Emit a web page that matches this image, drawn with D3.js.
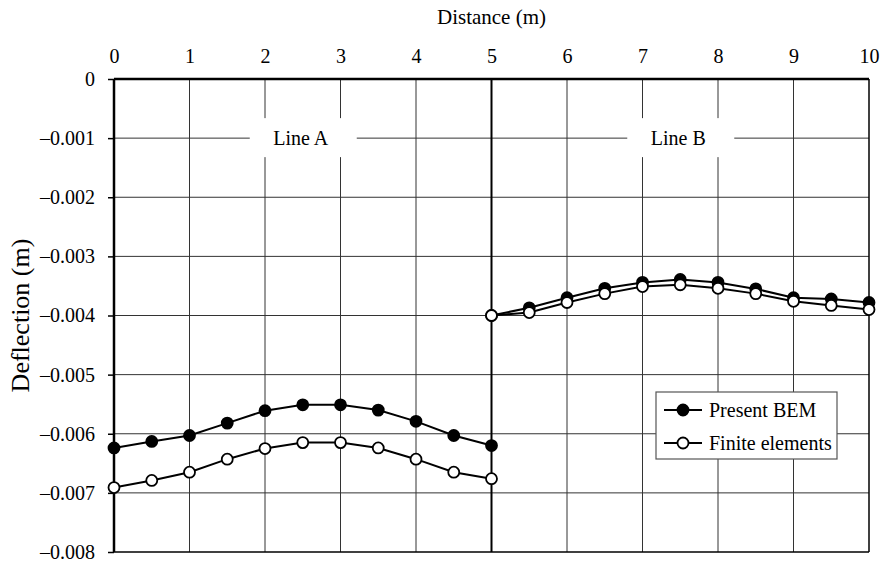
<!DOCTYPE html>
<html>
<head>
<meta charset="utf-8">
<script src="https://cdn.jsdelivr.net/npm/d3@7"></script>
<style>
  body { margin: 0; background: #fff; }
  text { font-family: "Liberation Serif", "Times New Roman", serif; fill: #000; }
</style>
</head>
<body>
<div id="container"></div>
<script>
// Data
var distA = [0, 0.5, 1, 1.5, 2, 2.5, 3, 3.5, 4, 4.5, 5];
var distB = [5, 5.5, 6, 6.5, 7, 7.5, 8, 8.5, 9, 9.5, 10];
var bemA = [-0.00624, -0.00613, -0.00603, -0.00582, -0.00561, -0.00551, -0.00551, -0.00560, -0.00579, -0.00603, -0.00620];
var feA  = [-0.00691, -0.00679, -0.00665, -0.00643, -0.00625, -0.00615, -0.00615, -0.00624, -0.00643, -0.00665, -0.00676];
var bemB = [-0.00400, -0.00387, -0.00370, -0.00354, -0.00344, -0.00339, -0.00344, -0.00355, -0.00370, -0.00372, -0.00378];
var feB  = [-0.00400, -0.00395, -0.00378, -0.00363, -0.00351, -0.00348, -0.00354, -0.00363, -0.00376, -0.00383, -0.00390];
var xTicks = [0, 1, 2, 3, 4, 5, 6, 7, 8, 9, 10];
var yTicks = [0, -0.001, -0.002, -0.003, -0.004, -0.005, -0.006, -0.007, -0.008];
var lineLabels = [{name: "Line A", x: 2.5}, {name: "Line B", x: 7.5}];
var legendNames = ["Present BEM", "Finite elements"];

var w = 883, h = 562;
var pLeft = 114, pRight = 869, pTop = 79, pBottom = 552;

var svg = d3.select("#container").append("svg")
  .attr("width", w)
  .attr("height", h);

var x = d3.scaleLinear().domain([0, 10]).range([pLeft, pRight]);
var y = d3.scaleLinear().domain([-0.008, 0]).range([pBottom, pTop]);

// Grid
svg.append("g").selectAll("line")
  .data(yTicks.slice(1, -1))
  .enter().append("line")
  .attr("x1", pLeft).attr("x2", pRight)
  .attr("y1", function(d) { return y(d); })
  .attr("y2", function(d) { return y(d); })
  .attr("stroke", "#333").attr("stroke-width", 1);

svg.append("g").selectAll("line")
  .data(xTicks.slice(1, -1))
  .enter().append("line")
  .attr("y1", pTop).attr("y2", pBottom)
  .attr("x1", function(d) { return x(d); })
  .attr("x2", function(d) { return x(d); })
  .attr("stroke", function(d) { return d == 5 ? "#000" : "#333"; })
  .attr("stroke-width", function(d) { return d == 5 ? 2 : 1; });

// Line labels with white patch over grid
var lab = svg.append("g").selectAll("g")
  .data(lineLabels)
  .enter().append("g");
lab.append("rect")
  .attr("x", function(d) { return x(d.x) - 53; })
  .attr("y", y(-0.001) - 20)
  .attr("width", 107).attr("height", 39)
  .attr("fill", "#fff");
lab.append("text")
  .attr("x", function(d) { return x(d.x) - 2; })
  .attr("y", y(-0.001) + 7)
  .attr("text-anchor", "middle")
  .style("font-size", "20px")
  .text(function(d) { return d.name; });

// Frame
svg.append("line").attr("x1", pLeft).attr("x2", pRight).attr("y1", pTop).attr("y2", pTop)
  .attr("stroke", "#000").attr("stroke-width", 2.5);
svg.append("line").attr("x1", pLeft).attr("x2", pRight).attr("y1", pBottom).attr("y2", pBottom)
  .attr("stroke", "#000").attr("stroke-width", 1.5);
svg.append("line").attr("x1", pLeft).attr("x2", pLeft).attr("y1", pTop).attr("y2", pBottom)
  .attr("stroke", "#000").attr("stroke-width", 2.5);
svg.append("line").attr("x1", pRight).attr("x2", pRight).attr("y1", pTop).attr("y2", pBottom)
  .attr("stroke", "#000").attr("stroke-width", 1.5);

// Axes
var yAxis = d3.axisLeft(y).tickValues(yTicks).tickSize(6).tickPadding(13)
  .tickFormat(function(d) { return d == 0 ? "0" : "\u2013" + d3.format(".3f")(-d); });
var gy = svg.append("g").attr("transform", "translate(" + pLeft + ",0)").call(yAxis);
gy.select(".domain").remove();
gy.selectAll(".tick line").attr("stroke", "#000").attr("stroke-width", 1.5);
gy.selectAll("text").style("font-size", "20px").attr("font-family", null);

var xAxis = d3.axisTop(x).tickValues(xTicks).tickSize(0).tickPadding(16);
var gx = svg.append("g").attr("transform", "translate(0," + pTop + ")").call(xAxis);
gx.select(".domain").remove();
gx.selectAll("text").style("font-size", "20px").attr("font-family", null);

svg.append("text")
  .attr("x", (pLeft + pRight) / 2).attr("y", 24)
  .attr("text-anchor", "middle").style("font-size", "21px")
  .text("Distance (m)");

svg.append("text")
  .attr("transform", "translate(29," + ((pTop + pBottom) / 2) + ") rotate(-90)")
  .attr("text-anchor", "middle").style("font-size", "26px")
  .text("Deflection (m)");

// Series
var line = d3.line()
  .x(function(d) { return x(d[0]); })
  .y(function(d) { return y(d[1]); });

function drawSeries(xs, ys, fill) {
  var pts = d3.zip(xs, ys);
  svg.append("path")
    .datum(pts)
    .attr("d", line)
    .attr("fill", "none")
    .attr("stroke", "#000")
    .attr("stroke-width", 2);
  svg.append("g").selectAll("circle")
    .data(pts)
    .enter().append("circle")
    .attr("cx", function(d) { return x(d[0]); })
    .attr("cy", function(d) { return y(d[1]); })
    .attr("r", 5.5)
    .attr("fill", fill)
    .attr("stroke", "#000")
    .attr("stroke-width", 1.8);
}

drawSeries(distA, bemA, "#000");
drawSeries(distA, feA, "#fff");
drawSeries(distB, bemB, "#000");
drawSeries(distB, feB, "#fff");

// Legend
var lg = svg.append("g").attr("transform", "translate(656,392)");
lg.append("rect")
  .attr("width", 181).attr("height", 67)
  .attr("fill", "#fff").attr("stroke", "#555").attr("stroke-width", 1.2);
var item = lg.selectAll("g.item")
  .data(legendNames)
  .enter().append("g")
  .attr("class", "item")
  .attr("transform", function(d, i) { return "translate(0," + (18 + i * 33) + ")"; });
item.append("line")
  .attr("x1", 8).attr("x2", 46)
  .attr("stroke", "#000").attr("stroke-width", 2);
item.append("circle")
  .attr("cx", 27).attr("r", 5.5)
  .attr("fill", function(d, i) { return i == 0 ? "#000" : "#fff"; })
  .attr("stroke", "#000").attr("stroke-width", 1.8);
item.append("text")
  .attr("x", 53).attr("y", 7)
  .style("font-size", "20px")
  .text(function(d) { return d; });
</script>
</body>
</html>
